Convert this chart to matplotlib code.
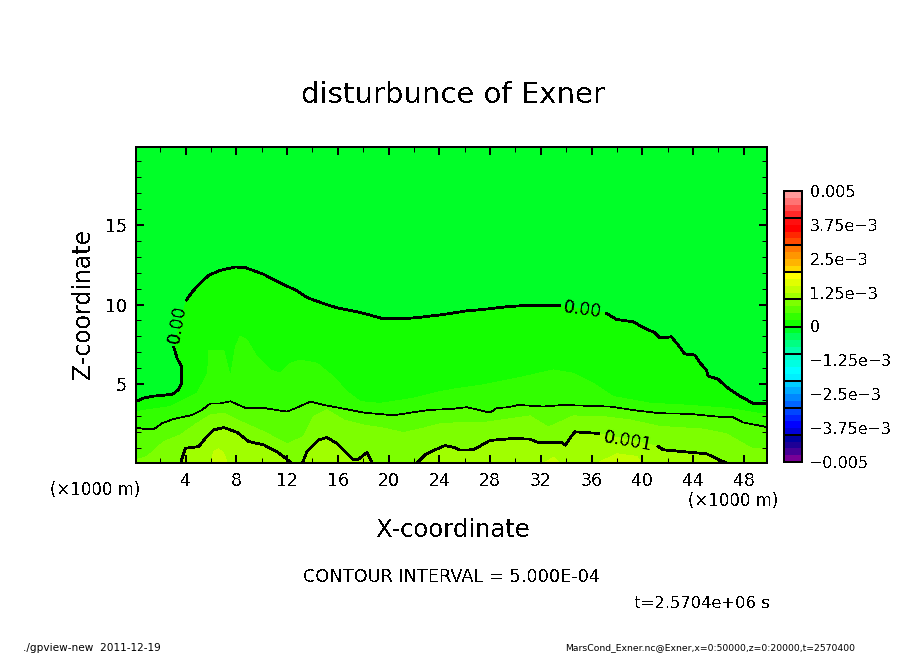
import numpy as np
import matplotlib
matplotlib.use("Agg")
import matplotlib.pyplot as plt
from matplotlib.colors import ListedColormap, BoundaryNorm

W, H = 904, 654

# colour cells of the legend, bottom to top, one per 0.00025
cell_colors = [
    (120, 0, 150), (70, 0, 150), (30, 0, 150), (0, 0, 160),
    (0, 0, 215), (0, 0, 255), (0, 35, 255), (0, 70, 255),
    (0, 100, 255), (0, 135, 255), (0, 170, 255), (0, 205, 255),
    (0, 240, 255), (0, 255, 255), (0, 255, 225), (0, 255, 200),
    (0, 255, 170), (0, 255, 130), (0, 255, 90), (0, 255, 40),
    (20, 255, 0), (50, 255, 0), (90, 255, 0), (125, 255, 0),
    (160, 255, 0), (195, 255, 0), (225, 255, 0), (255, 255, 0),
    (255, 215, 0), (255, 180, 0), (255, 150, 0), (255, 120, 0),
    (255, 75, 0), (255, 40, 0), (255, 0, 0), (255, 15, 15),
    (255, 40, 40), (255, 77, 77), (255, 115, 115), (255, 153, 153),
]
bar_ticks = [-0.005, -0.00375, -0.0025, -0.00125, 0, 0.00125, 0.0025, 0.00375, 0.005]
bar_labels = ["\u22120.005", "\u22123.75e\u22123", "\u22122.5e\u22123", "\u22121.25e\u22123", "0",
              "1.25e\u22123", "2.5e\u22123", "3.75e\u22123", "0.005"]

# contour 0.00, split where the labels sit
c0_x1 = [0.1, 0.70, 1.49, 2.28, 3.01, 3.46, 3.67, 3.67, 3.33, 3.07]
c0_z1 = [3.91, 4.12, 4.24, 4.29, 4.37, 4.66, 5.04, 6.09, 6.61, 7.30]
c0_x2 = [4.06, 4.51, 5.16, 5.82, 6.74, 7.92, 8.71, 10.15, 11.46, 12.78, 13.56, 14.87, 15.93,
         17.5, 18.55, 19.6, 21.2, 22.75, 24.3, 26.16, 27.47, 29.31, 31.15, 32.72, 33.51]
c0_z2 = [10.27, 10.79, 11.36, 11.84, 12.15, 12.36, 12.32, 11.90, 11.36, 10.86, 10.44, 10.06, 9.79,
         9.54, 9.33, 9.10, 9.10, 9.22, 9.37, 9.60, 9.69, 9.86, 9.96, 9.94, 9.94]
c0_x3 = [37.19, 37.97, 39.29, 40.07, 41.0, 41.39, 42.3, 42.83, 43.35, 44.14, 44.54, 45.06,
         45.19, 45.98, 46.77, 47.68, 48.73, 49.9]
c0_z3 = [9.44, 9.06, 8.91, 8.56, 8.22, 7.89, 7.97, 7.45, 6.89, 6.82, 6.34, 5.88,
         5.5, 5.3, 4.73, 4.25, 3.79, 3.79]

# contour 0.0005 (thin)
c5_x = [0.1, 0.83, 1.49, 2.15, 3.07, 4.51, 5.30, 5.95, 6.74, 7.53, 8.71, 10.15, 11.99, 12.64,
        13.83, 15.14, 16.71, 18.03, 20.39, 21.96, 23.28, 25.0, 26.16, 28.0, 28.52, 29.44, 30.23,
        32.2, 33.77, 37.45, 39.55, 41.39, 43.75, 45.85, 47.16, 47.95, 49.9]
c5_z = [2.26, 2.15, 2.15, 2.53, 2.80, 3.05, 3.37, 3.78, 3.78, 3.91, 3.49, 3.49, 3.26, 3.47,
        3.89, 3.64, 3.41, 3.20, 3.03, 3.22, 3.37, 3.43, 3.54, 3.20, 3.48, 3.54, 3.68,
        3.58, 3.68, 3.58, 3.33, 3.16, 3.12, 2.95, 2.91, 2.58, 2.28]

# contour 0.001
c1_x1 = [3.59, 3.98, 5.03, 5.56, 6.21, 7.0, 8.05, 8.97, 10.15, 11.2, 12.4]
c1_z1 = [0.0, 0.96, 1.06, 1.59, 2.11, 2.26, 1.96, 1.38, 1.17, 0.75, 0.0]
c1_x2 = [13.2, 13.56, 14.48, 15.14, 15.93, 17.24, 17.63, 18.29, 18.75]
c1_z2 = [0.0, 0.75, 1.48, 1.63, 1.27, 0.23, 0.27, 0.69, 0.0]
c1_x3 = [22.2, 22.88, 23.67, 24.46, 25.2, 25.64, 26.69, 28.0, 29.84, 31.15, 31.8, 33.64, 33.96,
         34.3, 34.69, 36.53]
c1_z3 = [0.0, 0.54, 0.86, 1.13, 1.0, 0.84, 0.86, 1.45, 1.57, 1.53, 1.32, 1.32, 1.15,
         1.59, 1.99, 1.89]
c1_x4 = [41.25, 41.65, 45.06, 46.7]
c1_z4 = [1.07, 0.86, 0.61, 0.0]

# shade boundaries without a line
s25_x = [0.1, 0.97, 2.80, 4.9, 5.74, 5.82, 7.0, 7.53, 7.92, 8.31, 8.84, 9.63, 10.68, 11.46, 12.25,
         13.04, 14.35, 15.66, 16.71, 17.76, 19.34, 21.96, 24.06, 25.2, 27.47, 30.1, 32.99, 34.56,
         36.13, 37.71, 40.6, 43.2, 46.64, 49.9]
s25_z = [3.26, 3.37, 3.58, 4.41, 5.67, 7.13, 7.13, 5.46, 7.34, 8.01, 7.76, 6.71, 5.88, 5.67, 6.3,
         6.5, 6.3, 5.46, 4.52, 3.89, 3.78, 4.1, 4.52, 4.68, 4.94, 5.36, 5.88, 5.67,
         5.05, 4.21, 3.79, 3.68, 3.48, 3.06]
s75_x = [0.1, 0.97, 2.28, 3.59, 4.9, 5.95, 7.0, 8.05, 10.15, 11.99, 13.3, 14.09, 15.14, 16.45, 18.03,
         19.6, 21.2, 22.75, 24.06, 25.2, 27.47, 31.15, 32.59, 34.56, 36.92, 39.02, 41.39, 44.8,
         46.64, 48.6, 49.9]
s75_z = [0.23, 0.44, 1.38, 1.8, 2.53, 3.05, 3.16, 2.74, 2.0, 1.23, 1.69, 2.95, 3.37, 2.74, 2.42,
         2.22, 1.94, 2.22, 2.49, 2.55, 2.57, 2.99, 2.28, 2.99, 2.95, 2.74, 2.33, 2.16,
         1.86, 0.97, 0.97]
s125_x = [[6.0, 6.21, 6.6, 7.0, 7.3], [32.2, 33.0, 33.5], [36.4, 38.0, 39.55, 40.07]]
s125_z = [[0.0, 0.75, 0.92, 0.64, 0.0], [0.0, 0.38, 0.0], [0.0, 0.61, 0.44, 0.0]]

XLIM = (0.125, 49.875)
ZLIM = (0.06, 19.94)
levels = np.arange(-0.005, 0.00501, 0.00025)
rgb = [(r / 255, g / 255, b / 255) for r, g, b in cell_colors]


def cell(value):
    return rgb[int(round((value + 0.005) / 0.00025))]


def shade(ax, xs, zs, value):
    ax.fill([xs[0]] + list(xs) + [xs[-1]], [-1] + list(zs) + [-1], color=cell(value), lw=0,
            antialiased=False)


def put(px, py, s, size, **kw):
    kw.setdefault("ha", "center")
    kw.setdefault("va", "center")
    fig.text(px / W, 1 - py / H, s, fontsize=size, **kw)


plt.rcParams["text.antialiased"] = False
plt.rcParams["font.family"] = "DejaVu Sans"

fig = plt.figure(figsize=(W / 100, H / 100), dpi=100)
ax = fig.add_axes([136.5 / W, 1 - 462.5 / H, 631 / W, 316 / H])
ax.set_facecolor(cell(-0.00025))

shade(ax, c0_x1 + c0_x2 + c0_x3, c0_z1 + c0_z2 + c0_z3, 0)
shade(ax, s25_x, s25_z, 0.00025)
shade(ax, c5_x, c5_z, 0.0005)
shade(ax, s75_x, s75_z, 0.00075)
shade(ax, c1_x1, c1_z1, 0.001)
shade(ax, c1_x2, c1_z2, 0.001)
shade(ax, c1_x3 + c1_x4, c1_z3 + c1_z4, 0.001)
for xs, zs in zip(s125_x, s125_z):
    shade(ax, xs, zs, 0.00125)

for xs, zs in [(c0_x1, c0_z1), (c0_x2, c0_z2), (c0_x3, c0_z3), (c1_x1, c1_z1),
               (c1_x2, c1_z2), (c1_x3, c1_z3), (c1_x4, c1_z4)]:
    ax.plot(xs, zs, color="k", lw=1.25, antialiased=False, solid_joinstyle="round")
ax.plot(c5_x, c5_z, color="k", lw=0.5, antialiased=False)

ax.text(3.35, 8.75, "0.00", rotation=80, ha="center", va="center", fontsize=12.5)
ax.text(35.3, 9.65, "0.00", rotation=-8, ha="center", va="center", fontsize=12.5)
ax.text(38.9, 1.4, "0.001", rotation=-10, ha="center", va="center", fontsize=12.5)

ax.set_xlim(*XLIM)
ax.set_ylim(*ZLIM)
ax.set_xticks(np.arange(4, 49, 4))
ax.set_xticks(np.arange(2, 50, 4), minor=True)
ax.set_yticks([5, 10, 15])
ax.set_yticks([z for z in range(1, 20) if z % 5], minor=True)
ax.tick_params(which="major", direction="in", top=True, right=True, length=5.8, width=1.44,
               labelsize=12.5, pad=7)
ax.tick_params(which="minor", direction="in", top=True, right=True, length=3.6, width=0.72)
for sp in ax.spines.values():
    sp.set_linewidth(1.44)

# legend bar
bar = fig.add_axes([784 / W, 1 - 462 / H, 18 / W, 271 / H])
cmap = ListedColormap(rgb)
bar.pcolormesh([0, 1], levels, np.array([(levels[:-1] + levels[1:]) / 2]).T, cmap=cmap,
               norm=BoundaryNorm(levels, cmap.N), antialiased=False)
bar.hlines(np.arange(-0.004, 0.0041, 0.001), 0, 1, color="k", lw=1.44)
bar.set_xticks([])
bar.set_xlim(0, 1)
bar.set_ylim(-0.005, 0.005)
bar.yaxis.tick_right()
bar.set_yticks(bar_ticks)
bar.set_yticklabels(bar_labels)
bar.tick_params(length=0, labelsize=11.5, pad=5.5)
for sp in bar.spines.values():
    sp.set_linewidth(1.44)

put(453, 95, "disturbunce of Exner", 21)
put(83, 304, "Z-coordinate", 17, rotation=90)
put(453, 530, "X-coordinate", 17.5)
put(95, 490, "(\u00d71000 m)", 12)
put(733, 501, "(\u00d71000 m)", 12)
put(452, 577, "CONTOUR INTERVAL = 5.000E-04", 12.8)
put(702, 603, "t=2.5704e+06 s", 11.8)
put(92, 648, "./gpview-new  2011-12-19", 7.6, antialiased=True)
put(710, 648, "MarsCond_Exner.nc@Exner,x=0:50000,z=0:20000,t=2570400", 6.7, antialiased=True)

fig.savefig("out.png", dpi=100)
